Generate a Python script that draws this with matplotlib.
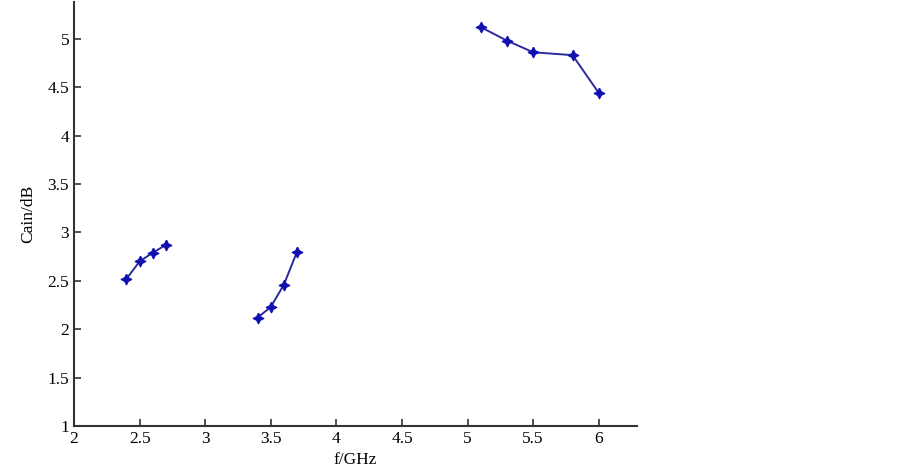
import matplotlib
matplotlib.use("Agg")
import matplotlib.pyplot as plt
import numpy as np

plt.rcParams['font.family'] = ['Liberation Serif', 'DejaVu Serif']

f1 = [2.4, 2.5, 2.6, 2.7]
g1 = [2.52, 2.70, 2.79, 2.87]
f2 = [3.4, 3.5, 3.6, 3.7]
g2 = [2.12, 2.23, 2.46, 2.80]
f3 = [5.1, 5.3, 5.5, 5.8, 6.0]
g3 = [5.12, 4.98, 4.86, 4.83, 4.44]

xticks = [2, 2.5, 3, 3.5, 4, 4.5, 5, 5.5, 6]
xticklabels = ['2', '2.5', '3', '3.5', '4', '4.5', '5', '5.5', '6']
yticks = [1, 1.5, 2, 2.5, 3, 3.5, 4, 4.5, 5]
yticklabels = ['1', '1.5', '2', '2.5', '3', '3.5', '4', '4.5', '5']

fig = plt.figure(figsize=(9.02, 4.75), dpi=100)
ax = fig.add_axes([0.082, 0.103, 0.624, 0.893])

star = [(0, 1), (0.33, 0.33), (1, 0), (0.33, -0.33), (0, -1), (-0.33, -0.33), (-1, 0), (-0.33, 0.33), (0, 1)]
for fx, gy in [(f1, g1), (f2, g2), (f3, g3)]:
    ax.plot(fx, gy, color='#2a2a9a', lw=1.4, marker=star, markersize=7.5,
            markerfacecolor='#1010b0', markeredgecolor='#1010b0')

ax.set_xlim(2, 6.29)
ax.set_ylim(1, 5.38)
ax.set_xticks(xticks)
ax.set_xticklabels(xticklabels)
ax.set_yticks(yticks)
ax.set_yticklabels(yticklabels)
ax.spines['top'].set_visible(False)
ax.spines['right'].set_visible(False)
for s in ['left', 'bottom']:
    ax.spines[s].set_linewidth(1.5)
    ax.spines[s].set_color('#333333')
ax.tick_params(direction='in', length=5, width=1.2, colors='#333333', labelsize=12.5, labelcolor='black')
ax.set_xlabel('f/GHz', fontsize=12.5, labelpad=4)
ax.set_ylabel('Cain/dB', fontsize=12.5, labelpad=8)

fig.savefig('out.png', dpi=100)
